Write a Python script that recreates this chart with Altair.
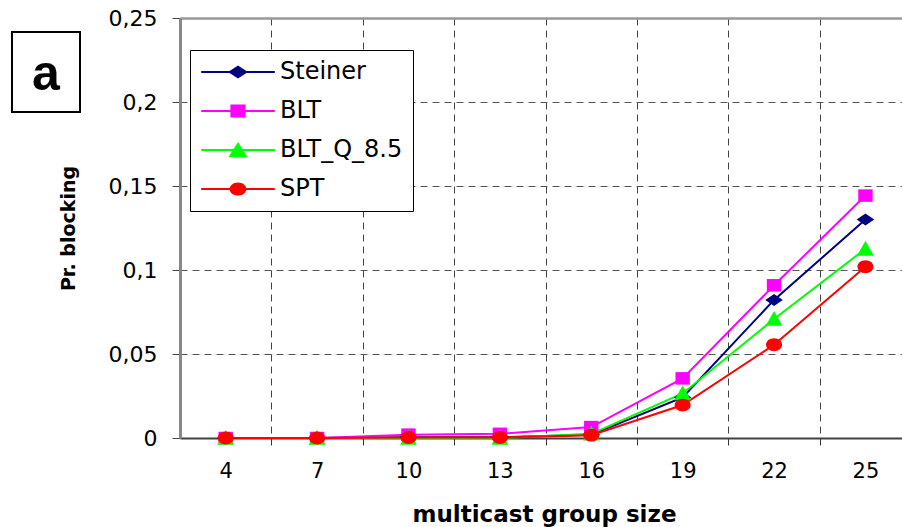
import altair as alt
import pandas as pd

# ---- data ----
group_size = [4, 7, 10, 13, 16, 19, 22, 25]
steiner = [0.0, 0.0, 0.0005, 0.0005, 0.002, 0.0241, 0.0822, 0.1300]
blt = [0.0, 0.0, 0.002, 0.0025, 0.0065, 0.0355, 0.0909, 0.1443]
blt_q = [0.0, 0.0, 0.0, 0.0, 0.0025, 0.0265, 0.0708, 0.1126]
spt = [0.0, 0.0, 0.0003, 0.0003, 0.0017, 0.0196, 0.0555, 0.1020]
series_names = ["Steiner", "BLT", "BLT_Q_8.5", "SPT"]
y_ticks = [0, 0.05, 0.1, 0.15, 0.2, 0.25]
x_tick_values = [4, 5.5, 7, 8.5, 10, 11.5, 13, 14.5, 16, 17.5, 19, 20.5, 22, 23.5, 25]
panel_label = ["a"]

# ---- styles ----
series_colors = ["#000080", "#FF00FF", "#00FF00", "#FF0000"]
marker_paths = [
    "M0,-0.75L1.1,0L0,0.75L-1.1,0Z",
    "M-0.9,-0.78L0.9,-0.78L0.9,0.78L-0.9,0.78Z",
    "M0,-1L1.05,0.85L-1.05,0.85Z",
    "M1,0A1,0.8,0,1,1,-1,0A1,0.8,0,1,1,1,0Z",
]
legend_line = "M-4.6,-0.13L4.6,-0.13L4.6,0.13L-4.6,0.13Z"
legend_marker_paths = [
    "M0,-0.8L1.25,0L0,0.8L-1.25,0Z",
    "M-0.95,-0.8L0.95,-0.8L0.95,0.8L-0.95,0.8Z",
    "M0,-1L1.2,0.9L-1.2,0.9Z",
    "M1.05,0A1.05,0.82,0,1,1,-1.05,0A1.05,0.82,0,1,1,1.05,0Z",
]
legend_paths = [legend_line + p for p in legend_marker_paths]

rows = []
for name, vals in zip(series_names, [steiner, blt, blt_q, spt]):
    for s, v in zip(group_size, vals):
        rows.append({"size": s, "value": v, "series": name, "series_leg": name})
df = pd.DataFrame(rows)

x_enc = alt.X(
    "size:Q",
    scale=alt.Scale(domain=[2.5, 26.2], nice=False, zero=False),
    title="multicast group size",
    axis=alt.Axis(
        values=x_tick_values,
        labelExpr="datum.value % 3 == 1 ? datum.label : ''",
        labelFont="DejaVu Sans",
        labelFontSize=21,
        labelColor="black",
        labelPadding=15,
        tickSize=7,
        tickColor="#333",
        tickOpacity={"condition": {"test": "datum.value % 3 == 1", "value": 0}, "value": 1},
        grid=True,
        gridOpacity={"condition": {"test": "datum.value % 3 == 1", "value": 0}, "value": 1},
        gridDash=[7, 5],
        gridColor="#444",
        gridWidth=1,
        domainColor="#404040",
        domainWidth=2,
        titleFont="DejaVu Sans",
        titleFontWeight="bold",
        titleFontSize=23,
        titleColor="black",
        titleX=364,
        titleY=83,
        titleAlign="center",
        titleBaseline="alphabetic",
        zindex=0,
    ),
)

y_enc = alt.Y(
    "value:Q",
    scale=alt.Scale(domain=[0, 0.25], nice=False, zero=True),
    title="Pr. blocking",
    axis=alt.Axis(
        values=y_ticks,
        labelExpr="replace(format(datum.value, '.2~f'), '.', ',')",
        labelFont="DejaVu Sans",
        labelFontSize=22,
        labelColor="black",
        labelPadding=15,
        tickSize=8,
        tickColor="#444",
        grid=True,
        gridDash={"condition": {"test": "datum.value > 0.24", "value": [1, 0]}, "value": [7, 5]},
        gridColor={"condition": {"test": "datum.value > 0.24", "value": "#999"}, "value": "#555"},
        gridWidth={"condition": {"test": "datum.value > 0.24", "value": 2.5}, "value": 1},
        domainColor="#888",
        domainWidth=3,
        titleFont="DejaVu Sans",
        titleFontWeight="bold",
        titleFontSize=19,
        titleColor="black",
        titleX=-112,
        titleY=210,
        titleAngle=270,
        titleAlign="center",
        titleBaseline="middle",
        zindex=0,
    ),
)

color_scale = alt.Scale(domain=series_names, range=series_colors)

base = alt.Chart(df)

lines = base.mark_line(strokeWidth=2).encode(
    x=x_enc,
    y=y_enc,
    color=alt.Color("series:N", scale=color_scale, legend=None),
    order="size:Q",
)

points = base.mark_point(filled=True, size=256, opacity=1).encode(
    x=x_enc,
    y=y_enc,
    color=alt.Color("series:N", scale=color_scale, legend=None),
    shape=alt.Shape("series:N", scale=alt.Scale(domain=series_names, range=marker_paths), legend=None),
)

leg = alt.Legend(
    title=None,
    orient="none",
    legendX=10,
    legendY=32,
    padding=10,
    strokeColor="black",
    fillColor="white",
    labelFont="DejaVu Sans",
    labelFontSize=24,
    labelColor="black",
    labelLimit=400,
    rowPadding=15,
    symbolSize=256,
    symbolStrokeWidth=0,
    symbolOpacity=1,
    symbolFillColor={"expr": "scale('color', datum.value)"},
    symbolOffset=26,
    labelOffset=30,
)

legend_layer = base.mark_point(filled=True, size=256, opacity=0).encode(
    x=x_enc,
    y=y_enc,
    color=alt.Color("series_leg:N", scale=color_scale, legend=leg),
    shape=alt.Shape("series_leg:N", scale=alt.Scale(domain=series_names, range=legend_paths), legend=leg),
)

label_df = pd.DataFrame({"label": panel_label})
box = alt.Chart(label_df).mark_rect(fill="white", stroke="black", strokeWidth=2).encode(
    x=alt.value(-168), x2=alt.value(-100), y=alt.value(14), y2=alt.value(94)
)
box_text = alt.Chart(label_df).mark_text(
    font="Liberation Sans", fontWeight="bold", fontSize=50, align="center", baseline="alphabetic", color="black"
).encode(x=alt.value(-134), y=alt.value(72), text="label:N")

chart = (
    alt.layer(lines, points, legend_layer, box, box_text)
    .resolve_scale(shape="independent")
    .properties(
        width=722,
        height=420,
        autosize=alt.AutoSizeParams(type="none"),
        padding={"left": 180, "top": 18, "right": 0, "bottom": 89},
        background="white",
    )
    .configure_view(stroke=None)
)

chart.save("out.html", embed_options={"renderer": "svg", "actions": False})
